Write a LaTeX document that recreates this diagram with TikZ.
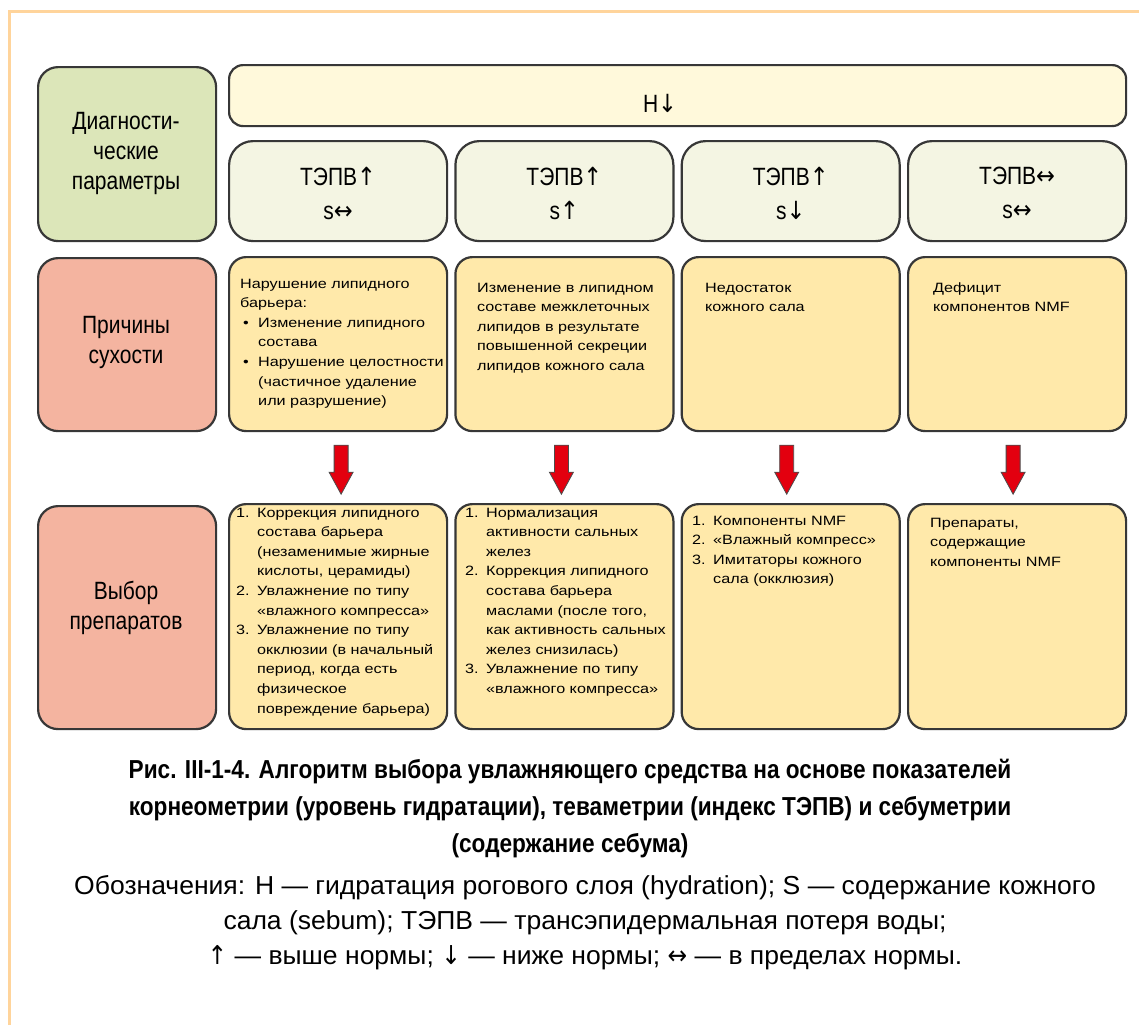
\documentclass[tikz,border=0pt]{standalone}
\usepackage{fontspec}
\setmainfont{Liberation Sans}
\newfontfamily\boxfont[FakeStretch=1.2]{Liberation Sans}
\newfontfamily\labfont[FakeStretch=0.84]{Liberation Sans}
\newfontfamily\capfont[FakeStretch=0.87]{Liberation Sans}
\newfontfamily\legfont[FakeStretch=1.02]{Liberation Sans}
\newfontfamily\arrowfont[FakeStretch=0.9]{DejaVu Sans}
\usetikzlibrary{calc}

\definecolor{framec}{RGB}{255,212,155}
\definecolor{greenc}{RGB}{220,230,185}
\definecolor{salmonc}{RGB}{244,180,160}
\definecolor{creamc}{RGB}{255,249,219}
\definecolor{paramc}{RGB}{244,245,227}
\definecolor{yellowc}{RGB}{255,233,170}
\definecolor{edgec}{RGB}{55,55,55}
\definecolor{redc}{RGB}{227,0,15}

% arrow signs set in a font with full-size arrows
\newcommand{\arrU}{{\arrowfont ↑}}
\newcommand{\arrD}{{\arrowfont ↓}}
\newcommand{\arrLR}{{\arrowfont ↔}}

% list helpers for the box texts
\newcommand{\numlbl}[1]{\makebox[21pt][l]{#1}}
\newcommand{\numcont}{\hspace*{21pt}}
\newcommand{\bullbl}{\makebox[18pt][l]{\hspace*{3pt}•}}
\newcommand{\bulcont}{\hspace*{18pt}}

\tikzset{
  panel/.style={draw=edgec, line width=2.2pt, anchor=north west, inner sep=0pt},
  labelbox/.style={panel, rounded corners=20pt, minimum width=178pt},
  headbox/.style={panel, fill=creamc, rounded corners=14pt},
  parambox/.style={panel, fill=paramc, rounded corners=24pt, minimum width=218pt, minimum height=100pt},
  infobox/.style={panel, fill=yellowc, rounded corners=17pt, minimum width=218pt},
  labtext/.style={align=center, inner sep=0pt, font=\labfont\fontsize{25}{30}\selectfont},
  partext/.style={align=center, inner sep=0pt, font=\labfont\fontsize{25}{34}\selectfont},
  boxtext/.style={anchor=base west, inner sep=0pt, font=\boxfont\fontsize{13.5}{19.6}\selectfont},
  pics/redblock/.style={code={
    \draw[fill=redc, draw=black!70, line width=0.8pt, line join=miter]
      (-7,0) -- (7,0) -- (7,27) -- (12,27) -- (0,49) -- (-12,27) -- (-7,27) -- cycle;
  }}
}

\begin{document}
\begin{tikzpicture}[x=1pt,y=-1pt]
\useasboundingbox (0,0) rectangle (1139,1025);
\fill[white] (0,0) rectangle (1139,1025);

% page frame
\draw[framec, line width=3pt] (9,1025) -- (9,12) -- (1139,12);

% row labels
\node[labelbox, fill=greenc, minimum height=174pt] (diag) at (37,66) {};
\node[labelbox, fill=salmonc, minimum height=173pt] (cause) at (37,257) {};
\node[labelbox, fill=salmonc, minimum height=223pt] (choice) at (37,505) {};
\node[labtext] (diagt) at (126,153) {Диагности-\\ческие\\параметры};
\node[labtext] (causet) at (126,342) {Причины\\сухости};
\node[labtext] (choicet) at (126,608) {Выбор\\препаратов};

% hydration header
\node[headbox, minimum width=897pt, minimum height=61pt] (hbox) at (228,64) {};
\node[partext] (ht) at (660,103) {Н\arrD};

% columns
\foreach \i/\x in {1/228, 2/454.3, 3/680.6, 4/907}{
  \node[parambox] (p\i) at (\x,140) {};
  \node[infobox, minimum height=174pt] (c\i) at (\x,256) {};
  \node[infobox, minimum height=225pt] (s\i) at (\x,503) {};
}

% diagnostic parameters
\node[partext] (p1t) at ($(p1.center)+(0,2)$) {ТЭПВ\arrU\\s\arrLR};
\node[partext] (p2t) at ($(p2.center)+(0,2)$) {ТЭПВ\arrU\\s\arrU};
\node[partext] (p3t) at ($(p3.center)+(0,2)$) {ТЭПВ\arrU\\s\arrD};
\node[partext] (p4t) at ($(p4.center)+(0,2)$) {ТЭПВ\arrLR\\s\arrLR};

% causes of dryness
\node[boxtext] (c1t) at (240,288) {\begin{tabular}[t]{@{}l@{}}
Нарушение липидного\\
барьера:\\
\bullbl Изменение липидного\\
\bulcont состава\\
\bullbl Нарушение целостности\\
\bulcont (частичное удаление\\
\bulcont или разрушение)
\end{tabular}};
\node[boxtext] (c2t) at (477,292) {\begin{tabular}[t]{@{}l@{}}
Изменение в липидном\\
составе межклеточных\\
липидов в результате\\
повышенной секреции\\
липидов кожного сала
\end{tabular}};
\node[boxtext] (c3t) at (705,292) {\begin{tabular}[t]{@{}l@{}}
Недостаток\\
кожного сала
\end{tabular}};
\node[boxtext] (c4t) at (933,292) {\begin{tabular}[t]{@{}l@{}}
Дефицит\\
компонентов NMF
\end{tabular}};

% arrows from causes to products
\foreach \i/\dx in {1/3,2/-3,3/-4,4/-4}{
  \pic at ($(c\i.south)+(\dx,13)$) {redblock};
}

% choice of products
\node[boxtext] (s1t) at (236,517) {\begin{tabular}[t]{@{}l@{}}
\numlbl{1.}Коррекция липидного\\
\numcont состава барьера\\
\numcont (незаменимые жирные\\
\numcont кислоты, церамиды)\\
\numlbl{2.}Увлажнение по типу\\
\numcont «влажного компресса»\\
\numlbl{3.}Увлажнение по типу\\
\numcont окклюзии (в начальный\\
\numcont период, когда есть\\
\numcont физическое\\
\numcont повреждение барьера)
\end{tabular}};
\node[boxtext] (s2t) at (465,517) {\begin{tabular}[t]{@{}l@{}}
\numlbl{1.}Нормализация\\
\numcont активности сальных\\
\numcont желез\\
\numlbl{2.}Коррекция липидного\\
\numcont состава барьера\\
\numcont маслами (после того,\\
\numcont как активность сальных\\
\numcont желез снизилась)\\
\numlbl{3.}Увлажнение по типу\\
\numcont «влажного компресса»
\end{tabular}};
\node[boxtext] (s3t) at (692,525) {\begin{tabular}[t]{@{}l@{}}
\numlbl{1.}Компоненты NMF\\
\numlbl{2.}«Влажный компресс»\\
\numlbl{3.}Имитаторы кожного\\
\numcont сала (окклюзия)
\end{tabular}};
\node[boxtext] (s4t) at (930,527) {\begin{tabular}[t]{@{}l@{}}
Препараты,\\
содержащие\\
компоненты NMF
\end{tabular}};

% caption and legend
\node[align=center, inner sep=0pt, font=\capfont\bfseries\fontsize{26}{37}\selectfont] (cap) at (570,809)
  {Рис. III-1-4. Алгоритм выбора увлажняющего средства на основе показателей\\
   корнеометрии (уровень гидратации), теваметрии (индекс ТЭПВ) и себуметрии\\
   (содержание себума)};
\node[align=center, inner sep=0pt, font=\legfont\fontsize{26}{35}\selectfont] (leg) at (585,923)
  {Обозначения: Н — гидратация рогового слоя (hydration); S — содержание кожного\\
   сала (sebum); ТЭПВ — трансэпидермальная потеря воды;\\
   \arrU{} — выше нормы; \arrD{} — ниже нормы; \arrLR{} — в пределах нормы.};
\end{tikzpicture}
\end{document}
